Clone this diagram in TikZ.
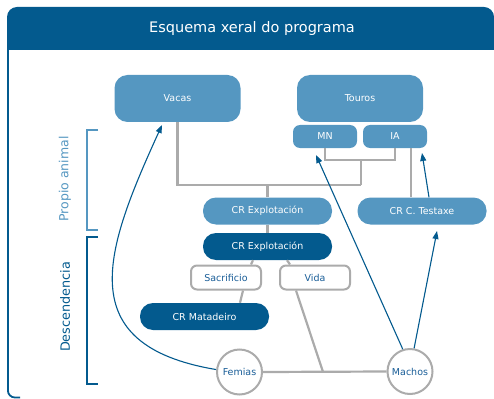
\documentclass[tikz,border=0pt]{standalone}
\usepackage{fontspec}
\setmainfont{DejaVu Sans}
\usetikzlibrary{arrows.meta}
\definecolor{dblue}{HTML}{035A8E}
\definecolor{lblue}{HTML}{5597C1}
\definecolor{lgray}{HTML}{ABABAB}
\definecolor{tblue}{HTML}{1A5E98}
\tikzset{
  bigbox/.style={fill=lblue,draw=none,rounded corners=13pt,minimum width=126pt,minimum height=47pt,inner sep=0pt,text=white,font=\fontsize{9.5}{11}\selectfont},
  smallbox/.style={fill=lblue,draw=none,rounded corners=7pt,minimum width=64pt,minimum height=23pt,inner sep=0pt,text=white,font=\fontsize{9.5}{11}\selectfont},
  pilllight/.style={fill=lblue,draw=none,rounded corners=13pt,minimum width=129pt,minimum height=27pt,inner sep=0pt,text=white,font=\fontsize{9.5}{11}\selectfont},
  pilldark/.style={pilllight,fill=dblue},
  whitebox/.style={fill=white,draw=lgray,line width=2pt,rounded corners=6pt,minimum width=70pt,minimum height=24pt,inner sep=0pt,text=tblue,font=\fontsize{9.5}{11}\selectfont},
  circnode/.style={circle,fill=white,draw=lgray,line width=2pt,minimum size=45pt,inner sep=0pt,text=tblue,font=\fontsize{9.5}{11}\selectfont},
  conn/.style={draw=lgray,line width=2.2pt},
  barrow/.style={draw=dblue,line width=1.1pt,-{Triangle[length=8pt,width=6pt]}},
  bracket/.style={line width=2pt},
}
\begin{document}
\begin{tikzpicture}[x=1pt,y=-1pt]
\useasboundingbox (0,0) rectangle (494,398);
% frame
\fill[dblue,rounded corners=10pt] (7,50) -- (7,7) -- (494,7) [sharp corners] -- (494,50) -- cycle;
\node[text=white,font=\fontsize{14.5}{17}\selectfont] (title) at (252,28.5) {Esquema xeral do programa};
\draw[dblue,line width=1.8pt,rounded corners=7pt] (7.9,49) -- (7.9,397.5) -- (20,397.5);
% brackets
\draw[lblue,bracket] (98,130) -- (87,130) -- (87,230) -- (98,230);
\draw[dblue,bracket] (98,237) -- (87,237) -- (87,384) -- (98,384);
\node[rotate=90,text=lblue,font=\fontsize{12.5}{15}\selectfont] (lprop) at (65,179) {Propio animal};
\node[rotate=90,text=dblue,font=\fontsize{12.8}{15}\selectfont] (ldesc) at (65,307) {Descendencia};
% nodes
\node[bigbox] (vacas) at (177.5,98.5) {Vacas};
\node[bigbox] (touros) at (360,98.5) {Touros};
\node[smallbox] (mn) at (325,136.5) {MN};
\node[smallbox] (ia) at (395,136.5) {IA};
\node[pilllight] (crexl) at (267.5,211) {CR Explotación};
\node[pilldark] (crexd) at (267.5,246.5) {CR Explotación};
\node[pilllight] (crtest) at (422,211) {CR C. Testaxe};
\node[whitebox] (sacr) at (226,277.5) {Sacrificio};
\node[whitebox] (vida) at (315,277.5) {Vida};
\node[pilldark] (crmat) at (204.5,316.5) {CR Matadeiro};
% gray connectors
\coordinate (j1) at (361,160);
\coordinate (j2) at (361,185);
\coordinate (j3) at (323,372);
\draw[conn] (mn.south) |- (j1) -| (ia.south);
\draw[conn] (j1) -- (j2);
\draw[conn] (vacas.south) |- (j2);
\draw[conn] (crexl.north) -- (crexl.north |- j2);
\draw[conn] (crexl.south) -- (crexd.north);
\draw[conn] (ia.south -| crtest.north) ++(-11,0) coordinate (iar) -- (iar |- crtest.north);
\draw[conn] ([xshift=-14.5pt]crexd.south) -- ([xshift=25pt]sacr.north);
\draw[conn] ([xshift=19.5pt]crexd.south) -- ([xshift=-25pt]vida.north);
\draw[conn] ([xshift=17pt]sacr.south) -- ([xshift=35.5pt]crmat.north);
\node[circnode] (femias) at (239.5,372) {Femias};
\node[circnode] (machos) at (410,371.5) {Machos};
\draw[conn] ([xshift=-19pt]vida.south) -- (j3);
\draw[conn] (femias.east) -- (machos.west);
% blue arrows
\coordinate (tvacas) at (162,125);
\coordinate (tmn) at (316,155);
\coordinate (ttest) at (437,231);
\coordinate (tia) at (422,153);
\draw[barrow] (femias.174) .. controls (70,345) and (105,250) .. (tvacas);
\draw[barrow] (machos.108) -- (tmn);
\draw[barrow] (machos.80) -- (ttest);
\draw[barrow] ([xshift=7pt]crtest.north) -- (tia);
\end{tikzpicture}
\end{document}
